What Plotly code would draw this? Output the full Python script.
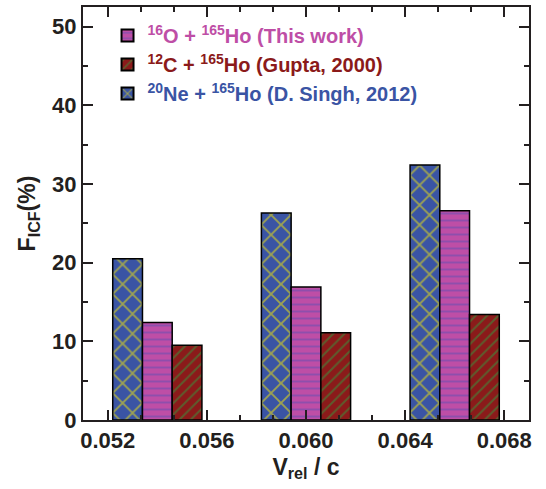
import plotly.graph_objects as go

vrel = [0.054, 0.060, 0.066]
o_ho = [12.4, 16.9, 26.6]
c_ho = [9.5, 11.1, 13.4]
ne_ho = [20.5, 26.3, 32.4]

FONT = "Liberation Sans, Arial, sans-serif"
PINK = "#BE4EA6"
RED = "#8B1A1A"
BLUE = "#3A54A4"

fig = go.Figure()
fig.add_trace(go.Bar(
    x=vrel, y=ne_ho, legendrank=3,
    name=f"<span style='color:{BLUE}'><b><sup>20</sup>Ne + <sup>165</sup>Ho (D. Singh, 2012)</b></span>",
    marker=dict(color=BLUE, line=dict(color="black", width=1.5),
                pattern=dict(shape="x", fgcolor="#FFF000", bgcolor=BLUE, size=14, solidity=0.25,
                             fillmode="overlay")),
))
fig.add_trace(go.Bar(
    x=vrel, y=o_ho, legendrank=1,
    name=f"<span style='color:{PINK}'><b><sup>16</sup>O + <sup>165</sup>Ho (This work)</b></span>",
    marker=dict(color=PINK, line=dict(color="black", width=1.5),
                pattern=dict(shape="-", fgcolor="#5E4FB2", bgcolor=PINK, size=7, solidity=0.28,
                             fillmode="overlay")),
))
fig.add_trace(go.Bar(
    x=vrel, y=c_ho, legendrank=2,
    name=f"<span style='color:{RED}'><b><sup>12</sup>C + <sup>165</sup>Ho (Gupta, 2000)</b></span>",
    marker=dict(color=RED, line=dict(color="black", width=1.5),
                pattern=dict(shape="/", fgcolor="#2FA040", bgcolor=RED, size=8, solidity=0.25,
                             fillmode="overlay")),
))

axis_common = dict(
    showline=True, linecolor="#231F20", linewidth=2, mirror="ticks",
    ticks="inside", tickcolor="#231F20", tickwidth=2, ticklen=10,
    showgrid=False, zeroline=False,
    tickfont=dict(family=FONT, size=22, color="#231F20", weight="bold"),
)

fig.update_layout(
    width=546, height=489,
    margin=dict(l=83, r=17, t=5, b=69),
    paper_bgcolor="white", plot_bgcolor="white",
    barmode="group", bargap=0.4, bargroupgap=0,
    font=dict(family=FONT, color="#231F20"),
    showlegend=True,
    legend=dict(x=0.055, y=0.978, xanchor="left", yanchor="top",
                font=dict(family=FONT, size=20), bgcolor="rgba(0,0,0,0)",
                itemsizing="constant"),
    xaxis=dict(**axis_common, range=[0.051, 0.069], tick0=0.052, dtick=0.004,
               tickformat=".3f",
               minor=dict(ticks="inside", ticklen=5, dtick=0.004 / 3, tick0=0.052,
                          tickcolor="#231F20", tickwidth=2),
               title=dict(text="<b>V<sub>rel</sub> / c</b>", font=dict(family=FONT, size=23),
                          standoff=6)),
    yaxis=dict(**axis_common, range=[0, 52.5], tick0=0, dtick=10,
               minor=dict(ticks="inside", ticklen=5, dtick=5,
                          tickcolor="#231F20", tickwidth=2),
               title=dict(text="<b>F<sub>ICF</sub>(%)</b>", font=dict(family=FONT, size=23),
                          standoff=10)),
)

fig.write_html("out.html")
